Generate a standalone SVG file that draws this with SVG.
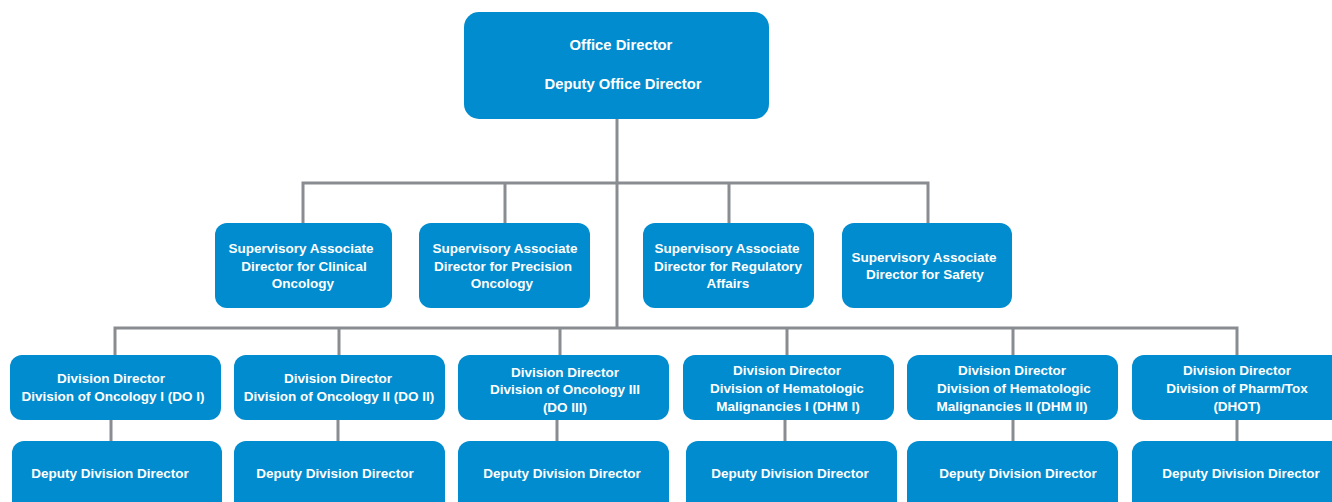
<svg xmlns="http://www.w3.org/2000/svg" width="1332" height="502" viewBox="0 0 1332 502">
<style>
.box{fill:#008CCE;}
.t{font-family:"Liberation Sans",Arial,sans-serif;font-weight:bold;font-size:13.5px;fill:#ffffff;text-anchor:middle;}
.big{font-size:14.8px;}
.c{stroke:#898C90;stroke-width:3;fill:none;}
</style>
<rect width="1332" height="502" fill="#ffffff"/>
<g id="connectors">
<path class="c" d="M617 119 V328"/>
<path class="c" d="M303 223 V183 H928 V223 M505 183 V223 M729 183 V223"/>
<path class="c" d="M115 355 V328 H1237 V355 M339 328 V355 M560 328 V355 M787 328 V355 M1013 328 V355"/>
<path class="c" d="M111 420 V441 M338 420 V441 M557 420 V441 M785 420 V441 M1013 420 V441 M1237 420 V441"/>
</g>
<g id="office-director">
<rect class="box" x="464" y="12" width="305" height="107" rx="15"/>
<text class="t big" x="621" y="50">Office Director</text>
<text class="t big" x="623" y="89">Deputy Office Director</text>
</g>
<g id="sad-clinical">
<rect class="box" x="215" y="223" width="177" height="85" rx="12"/>
<text class="t" x="301" y="253">Supervisory Associate</text>
<text class="t" x="304" y="271">Director for Clinical</text>
<text class="t" x="303" y="288">Oncology</text>
</g>
<g id="sad-precision">
<rect class="box" x="419" y="223" width="171" height="85" rx="12"/>
<text class="t" x="505" y="253">Supervisory Associate</text>
<text class="t" x="503" y="271">Director for Precision</text>
<text class="t" x="502" y="288">Oncology</text>
</g>
<g id="sad-regulatory">
<rect class="box" x="643" y="223" width="171" height="85" rx="12"/>
<text class="t" x="727" y="253">Supervisory Associate</text>
<text class="t" x="728" y="271">Director for Regulatory</text>
<text class="t" x="728" y="288">Affairs</text>
</g>
<g id="sad-safety">
<rect class="box" x="842" y="223" width="170" height="85" rx="12"/>
<text class="t" x="924" y="262">Supervisory Associate</text>
<text class="t" x="925" y="279">Director for Safety</text>
</g>
<g id="div-do1">
<rect class="box" x="10" y="355" width="211" height="65" rx="12"/>
<text class="t" x="111" y="383">Division Director</text>
<text class="t" x="113" y="401">Division of Oncology I (DO I)</text>
</g>
<g id="div-do2">
<rect class="box" x="234" y="355" width="211" height="65" rx="12"/>
<text class="t" x="338" y="383">Division Director</text>
<text class="t" x="339" y="401">Division of Oncology II (DO II)</text>
</g>
<g id="div-do3">
<rect class="box" x="458" y="355" width="211" height="65" rx="12"/>
<text class="t" x="565" y="377">Division Director</text>
<text class="t" x="565" y="394">Division of Oncology III</text>
<text class="t" x="565" y="412">(DO III)</text>
</g>
<g id="div-dhm1">
<rect class="box" x="683" y="355" width="211" height="65" rx="12"/>
<text class="t" x="787" y="375">Division Director</text>
<text class="t" x="787" y="393">Division of Hematologic</text>
<text class="t" x="788" y="411">Malignancies I (DHM I)</text>
</g>
<g id="div-dhm2">
<rect class="box" x="907" y="355" width="211" height="65" rx="12"/>
<text class="t" x="1012" y="375">Division Director</text>
<text class="t" x="1014" y="393">Division of Hematologic</text>
<text class="t" x="1012" y="411">Malignancies II (DHM II)</text>
</g>
<g id="div-dhot">
<rect class="box" x="1132" y="355" width="211" height="65" rx="12"/>
<text class="t" x="1237" y="375">Division Director</text>
<text class="t" x="1237" y="393">Division of Pharm/Tox</text>
<text class="t" x="1237" y="411">(DHOT)</text>
</g>
<g id="dep-do1">
<rect class="box" x="12" y="441" width="210" height="75" rx="12"/>
<text class="t" x="110" y="478">Deputy Division Director</text>
</g>
<g id="dep-do2">
<rect class="box" x="234" y="441" width="211" height="75" rx="12"/>
<text class="t" x="335" y="478">Deputy Division Director</text>
</g>
<g id="dep-do3">
<rect class="box" x="458" y="441" width="211" height="75" rx="12"/>
<text class="t" x="562" y="478">Deputy Division Director</text>
</g>
<g id="dep-dhm1">
<rect class="box" x="686" y="441" width="211" height="75" rx="12"/>
<text class="t" x="790" y="478">Deputy Division Director</text>
</g>
<g id="dep-dhm2">
<rect class="box" x="907" y="441" width="211" height="75" rx="12"/>
<text class="t" x="1018" y="478">Deputy Division Director</text>
</g>
<g id="dep-dhot">
<rect class="box" x="1132" y="441" width="211" height="75" rx="12"/>
<text class="t" x="1241" y="478">Deputy Division Director</text>
</g>
</svg>
